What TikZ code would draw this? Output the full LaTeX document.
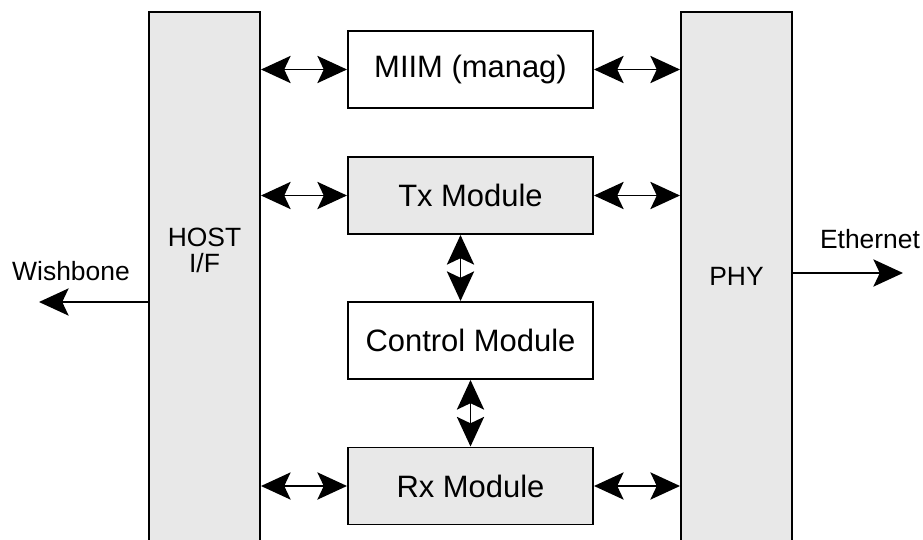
\documentclass[tikz,border=0pt]{standalone}
\usepackage{fontspec}
\setmainfont{Liberation Sans}
\usetikzlibrary{arrows.meta}
\definecolor{boxgray}{RGB}{232,232,232}

\begin{document}
\begin{tikzpicture}[x=0.025cm, y=-0.025cm,
    block/.style={draw, line width=1.4pt, minimum width=6.125cm, minimum height=1.925cm, inner sep=0pt, font=\fontsize{22}{26}\selectfont},
    bar/.style={draw, line width=1.4pt, fill=boxgray, minimum width=2.775cm, minimum height=13.7cm, inner sep=0pt},
    side/.style={font=\fontsize{18.8}{17.8}\selectfont, align=center, anchor=base},
    link/.style={line width=1.3pt, {Stealth[length=0.74cm, width=0.68cm, inset=0.16cm]}-{Stealth[length=0.74cm, width=0.68cm, inset=0.16cm]}},
    feed/.style={line width=1.3pt, -{Stealth[length=0.74cm, width=0.68cm, inset=0.16cm]}}]

    \clip (0,0) rectangle (923,540);

    \node (host) [bar] at (204.5,286) {};
    \node (phy) [bar] at (736.5,286) {};
    \node (hosttext) [side] at (204.5,272) {HOST\\I/F};
    \node (phytext) [side] at (736.5,285) {PHY};

    \node (miim) [block] at (470.5,69.5) {MIIM (manag)};
    \node (tx) [block, fill=boxgray] at (470.5,195.5) {Tx Module};
    \node (ctrl) [block] at (470.5,340.5) {Control Module};
    \node (rx) [block, fill=boxgray] at (470.5,486) {Rx Module};

    \foreach \b in {miim,tx,rx} {
        \draw[link] (\b.west -| host.east) -- (\b.west);
        \draw[link] (\b.east) -- (\b.east -| phy.west);
    }
    \draw[link] ([xshift=-0.25cm]tx.south) -- ([xshift=-0.25cm]ctrl.north);
    \draw[link] (ctrl.south) -- (rx.north);

    \coordinate (wb) at (39,302);
    \coordinate (eth) at (903,273);
    \draw[feed] (wb -| host.west) -- (wb);
    \draw[feed] (eth -| phy.east) -- (eth);
    \node (wbtext) [side] at (71,280) {Wishbone};
    \node (ethtext) [side] at (870,248) {Ethernet};

\end{tikzpicture}
\end{document}
